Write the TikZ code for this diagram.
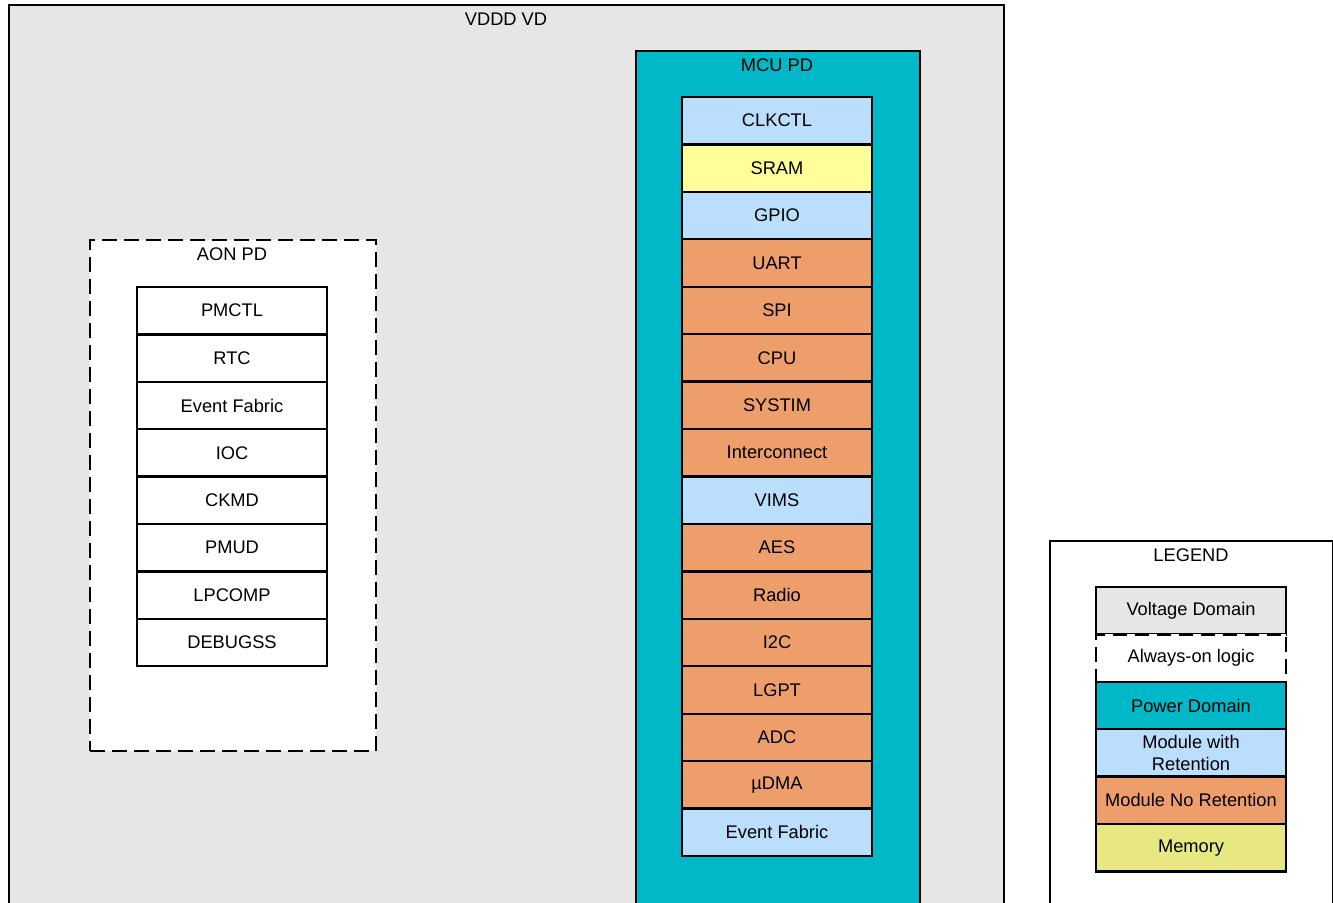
\documentclass[tikz,border=0pt]{standalone}
\usepackage{fontspec}
\setmainfont{Liberation Sans}
\usetikzlibrary{positioning}
\definecolor{vdgrey}{RGB}{230,230,230}
\definecolor{pdteal}{RGB}{0,184,200}
\definecolor{retblue}{RGB}{187,222,252}
\definecolor{noretorange}{RGB}{237,158,106}
\definecolor{sramyellow}{RGB}{255,255,153}
\definecolor{memkhaki}{RGB}{232,232,130}

\begin{document}
\begin{tikzpicture}[x=0.75pt, y=-0.75pt, every node/.style={font=\fontsize{13.7}{16.5}\selectfont},
  domainbox/.style={draw, line width=1.7pt, inner sep=0pt, anchor=north west},
  modbox/.style={draw, line width=1.7pt, inner sep=0pt, minimum width=142.5pt, minimum height=35.55pt, align=center},
  aonline/.style={line width=1.7pt, dash pattern=on 11pt off 5.5pt}]
      \useasboundingbox (0,0) rectangle (1333,902);
      \clip (0,0) rectangle (1333,902);
      % voltage domain
      \node[domainbox, fill=vdgrey, minimum width=746.25pt, minimum height=690pt] (vd) at (8,4) {};
      \node (vdlbl) at (506,19) {VDDD VD};
      % always-on power domain
      \node[domainbox, aonline, fill=white, minimum width=214.5pt, minimum height=383.25pt] (aon) at (89,239) {};
      \node (aonlbl) at (232,254) {AON PD};
      \node[modbox, fill=white] (pmctl) at (232,310.7) {PMCTL};
      \node[modbox, fill=white] (rtc) at (232,358.1) {RTC};
      \node[modbox, fill=white] (aonevt) at (232,405.5) {Event Fabric};
      \node[modbox, fill=white] (ioc) at (232,452.9) {IOC};
      \node[modbox, fill=white] (ckmd) at (232,500.3) {CKMD};
      \node[modbox, fill=white] (pmud) at (232,547.7) {PMUD};
      \node[modbox, fill=white] (lpcomp) at (232,595.1) {LPCOMP};
      \node[modbox, fill=white] (debugss) at (232,642.5) {DEBUGSS};
      % MCU power domain
      \node[domainbox, fill=pdteal, minimum width=213pt, minimum height=660pt] (mcu) at (635,50) {};
      \node (mculbl) at (777,65) {MCU PD};
      \node[modbox, fill=retblue] (clkctl) at (777,120.7) {CLKCTL};
      \node[modbox, fill=sramyellow] (sram) at (777,168.2) {SRAM};
      \node[modbox, fill=retblue] (gpio) at (777,215.6) {GPIO};
      \node[modbox, fill=noretorange] (uart) at (777,263.0) {UART};
      \node[modbox, fill=noretorange] (spi) at (777,310.5) {SPI};
      \node[modbox, fill=noretorange] (cpu) at (777,357.9) {CPU};
      \node[modbox, fill=noretorange] (systim) at (777,405.4) {SYSTIM};
      \node[modbox, fill=noretorange] (icon) at (777,452.8) {Interconnect};
      \node[modbox, fill=retblue] (vims) at (777,500.2) {VIMS};
      \node[modbox, fill=noretorange] (aes) at (777,547.7) {AES};
      \node[modbox, fill=noretorange] (radio) at (777,595.1) {Radio};
      \node[modbox, fill=noretorange] (itwoc) at (777,642.6) {I2C};
      \node[modbox, fill=noretorange] (lgpt) at (777,690.0) {LGPT};
      \node[modbox, fill=noretorange] (adc) at (777,737.4) {ADC};
      \node[modbox, fill=noretorange] (udma) at (777,784.9) {µDMA};
      \node[modbox, fill=retblue] (mcuevt) at (777,832.3) {Event Fabric};
      % legend
      \node[domainbox, fill=white, minimum width=212.25pt, minimum height=300pt] (legend) at (1049,540) {};
      \node (legendlbl) at (1191,555) {LEGEND};
      \node[modbox, fill=vdgrey] (lgvd) at (1191,610.7) {Voltage Domain};
      \node[modbox, aonline, fill=white] (lgaon) at (1191,658.1) {Always-on logic};
      \node[modbox, fill=pdteal] (lgpd) at (1191,705.5) {Power Domain};
      \node[modbox, fill=retblue] (lgret) at (1191,752.9) {Module with\\Retention};
      \node[modbox, fill=noretorange] (lgnoret) at (1191,800.3) {Module No Retention};
      \node[modbox, fill=memkhaki] (lgmem) at (1191,847.7) {Memory};
    \end{tikzpicture}
\end{document}
